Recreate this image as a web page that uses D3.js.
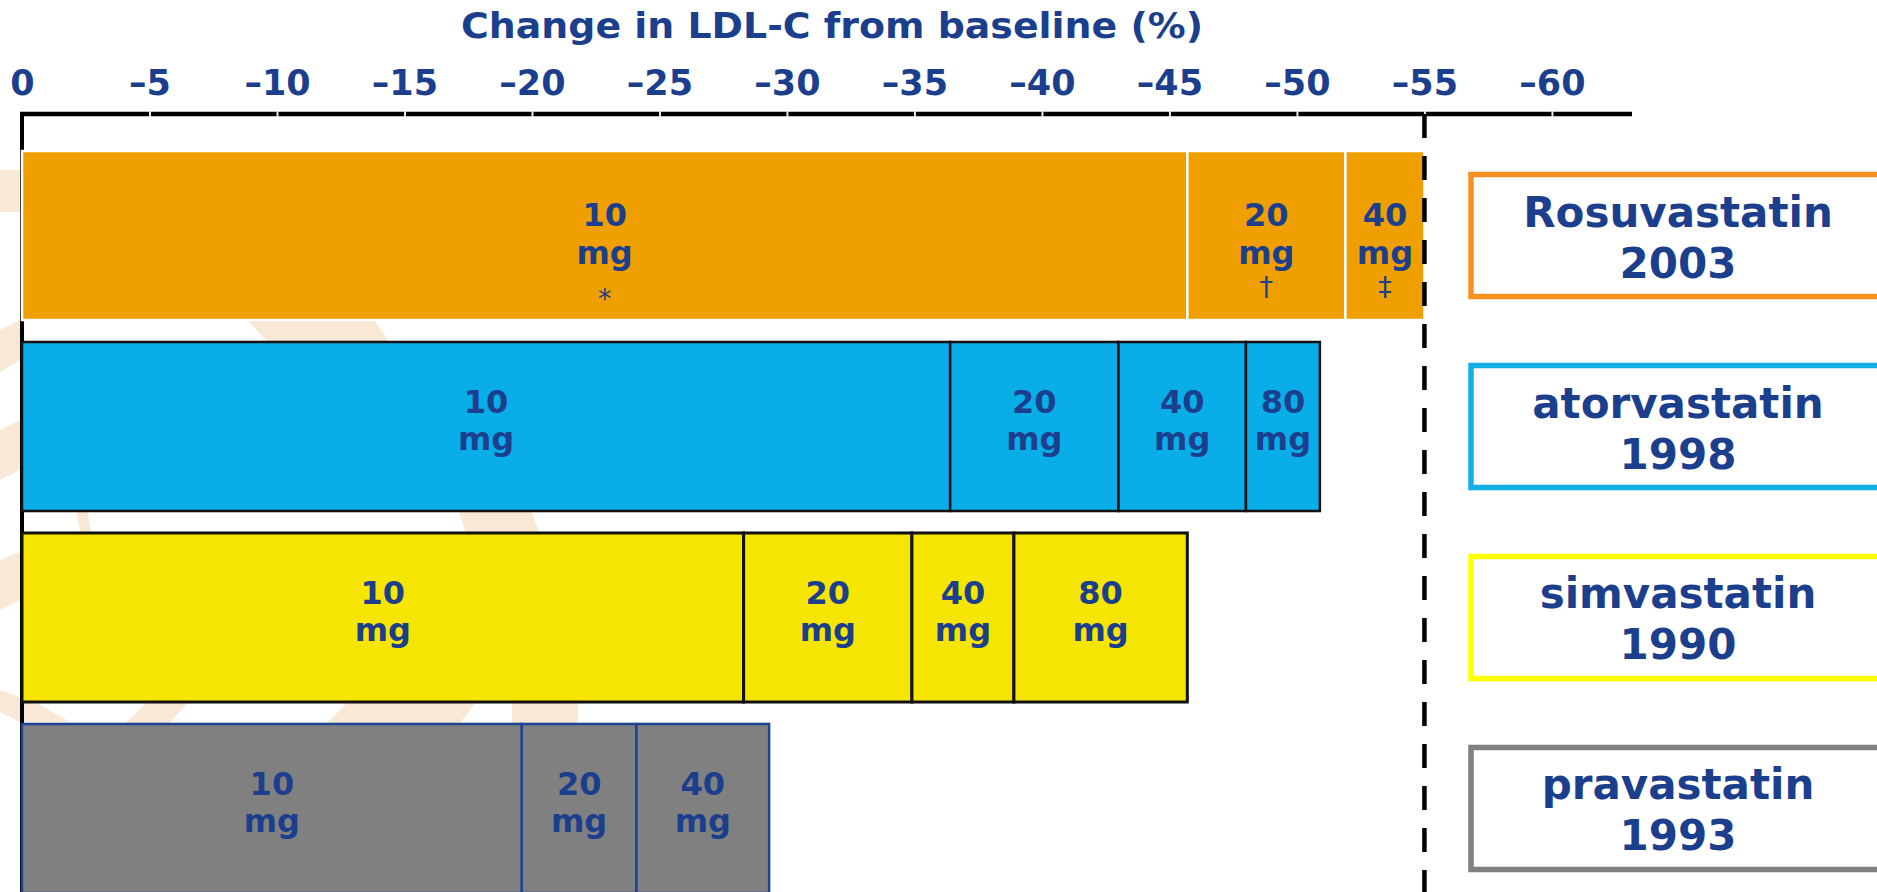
<!DOCTYPE html>
<html>
<head>
<meta charset="utf-8">
<script src="https://cdn.jsdelivr.net/npm/d3@7"></script>
<style>
  html, body { margin: 0; padding: 0; background: #fff; }
  svg { display: block; }
  text { font-family: "DejaVu Sans", Verdana, sans-serif; font-weight: bold; fill: #1b3f8c; }
</style>
</head>
<body>
<div id="chart"></div>
<script>
// statins, launch year and doses
const drugs = ["Rosuvastatin", "atorvastatin", "simvastatin", "pravastatin"];
const years = ["2003", "1998", "1990", "1993"];
const doses = [["10", "20", "40"], ["10", "20", "40", "80"], ["10", "20", "40", "80"], ["10", "20", "40"]];
// change in LDL-C from baseline (%) reached at each dose
const rosuvastatin = [-45.7, -51.9, -55];
const atorvastatin = [-36.4, -43, -48, -50.9];
const simvastatin = [-28.3, -34.9, -38.9, -45.7];
const pravastatin = [-19.6, -24.1, -29.3];
const footnotes = [["*", "\u2020", "\u2021"], [], [], []];
const xTicks = [0, -5, -10, -15, -20, -25, -30, -35, -40, -45, -50, -55, -60];
const targetLine = -55;

const values = [rosuvastatin, atorvastatin, simvastatin, pravastatin];
const fills = ["#efa000", "#09ade8", "#f6e500", "#808080"];
const edges = ["#ffffff", "#111111", "#111111", "#1f4493"];
const edgeW = [2.5, 2.5, 3, 2.5];
const boxColors = ["#f7901e", "#10b0e6", "#ffff00", "#808080"];

const width = 1877, height = 892;

const svg = d3.select("#chart").append("svg")
    .attr("width", width)
    .attr("height", height);

svg.append("rect").attr("width", width).attr("height", height).attr("fill", "#fff");

// faint logo watermark behind the bars
const watermark = [
  [[230, 300], [360, 300], [392, 345], [270, 345]],
  [[74, 500], [86, 500], [92, 540], [82, 540]],
  [[455, 500], [527, 500], [542, 540], [468, 540]],
  [[150, 700], [190, 700], [165, 728], [120, 728]],
  [[350, 700], [478, 700], [456, 728], [322, 728]],
  [[512, 700], [578, 700], [578, 728], [512, 728]],
  [[0, 690], [40, 705], [70, 722], [20, 722], [0, 712]],
  [[0, 170], [20, 170], [20, 212], [0, 212]],
  [[0, 330], [20, 320], [20, 360], [0, 372]],
  [[0, 430], [20, 420], [20, 470], [0, 480]],
  [[0, 560], [20, 552], [20, 600], [0, 610]]
];
svg.append("g")
  .selectAll("polygon")
  .data(watermark)
  .enter()
  .append("polygon")
    .attr("points", d => d.map(p => p.join(",")).join(" "))
    .attr("fill", "#f9e8d5");

const x = d3.scaleLinear()
    .domain([0, -63.14])
    .range([22, 1632]);

const y = d3.scaleBand()
    .domain(drugs)
    .range([151, 893])
    .paddingInner(0.115)
    .paddingOuter(0);

// title
svg.append("text")
    .attr("x", 832)
    .attr("y", 38)
    .attr("text-anchor", "middle")
    .attr("textLength", 742)
    .attr("lengthAdjust", "spacingAndGlyphs")
    .style("font-size", "35px")
    .text("Change in LDL-C from baseline (%)");

// top axis
const axis = d3.axisTop(x)
    .tickValues(xTicks)
    .tickSizeInner(0)
    .tickSizeOuter(0)
    .tickPadding(19)
    .tickFormat(d => d === 0 ? "0" : "\u2013" + Math.abs(d));

const gAxis = svg.append("g")
    .attr("transform", "translate(0,114)")
    .call(axis);
gAxis.select(".domain")
    .attr("d", "M" + (x(0) - 2) + ",0H" + x.range()[1])
    .attr("stroke", "#000")
    .attr("stroke-width", 4.5);
gAxis.selectAll(".tick text")
    .attr("fill", "#1b3f8c")
    .style("font-size", "35px")
    .style("font-family", "'DejaVu Sans', Verdana, sans-serif")
    .style("font-weight", "bold");
gAxis.selectAll(".tick")
    .filter(d => d !== 0)
    .append("line")
    .attr("y1", -3).attr("y2", 3)
    .attr("stroke", "#e8e8e8")
    .attr("stroke-width", 2);

// left vertical axis
svg.append("line")
    .attr("x1", x(0)).attr("x2", x(0))
    .attr("y1", 112).attr("y2", height)
    .attr("stroke", "#000")
    .attr("stroke-width", 4);

// bars: one group per statin, one rect per dose step
const rows = drugs.map((name, i) => ({
  name: name,
  i: i,
  segs: values[i].map((v, j) => ({
    from: j === 0 ? 0 : values[i][j - 1],
    to: v,
    dose: doses[i][j],
    note: footnotes[i][j]
  }))
}));

const gRow = svg.append("g")
  .selectAll("g")
  .data(rows)
  .enter()
  .append("g")
    .attr("transform", d => "translate(0," + y(d.name) + ")");

gRow.selectAll("rect")
  .data(d => d.segs.map(s => Object.assign({ i: d.i }, s)))
  .enter()
  .append("rect")
    .attr("x", d => x(d.from))
    .attr("width", d => x(d.to) - x(d.from))
    .attr("y", 0)
    .attr("height", y.bandwidth())
    .attr("fill", d => fills[d.i])
    .attr("stroke", d => edges[d.i])
    .attr("stroke-width", d => edgeW[d.i]);

// dose labels
const c = y.bandwidth() / 2;
const lbl = gRow.selectAll("g.lbl")
  .data(d => d.segs.map(s => Object.assign({ i: d.i }, s)))
  .enter()
  .append("g")
    .attr("class", "lbl")
    .attr("transform", d => "translate(" + (x(d.from) + x(d.to)) / 2 + ",0)");

lbl.append("text")
    .attr("text-anchor", "middle")
    .attr("y", d => d.note ? c - 10 : c - 13)
    .style("font-size", "32px")
    .text(d => d.dose);
lbl.append("text")
    .attr("text-anchor", "middle")
    .attr("y", d => d.note ? c + 28 : c + 24)
    .style("font-size", "32px")
    .text("mg");
lbl.filter(d => d.note)
  .append("text")
    .attr("text-anchor", "middle")
    .attr("y", d => d.note === "*" ? c + 72 : c + 60)
    .style("font-size", "27px")
    .style("font-weight", "normal")
    .text(d => d.note);

// -55% target line
svg.append("line")
    .attr("x1", x(targetLine)).attr("x2", x(targetLine))
    .attr("y1", 114).attr("y2", height)
    .attr("stroke", "#000")
    .attr("stroke-width", 4.5)
    .attr("stroke-dasharray", "24,18");

// name / year boxes on the right
const gBox = svg.append("g")
  .selectAll("g")
  .data(rows)
  .enter()
  .append("g")
    .attr("transform", d => "translate(0," + (y(d.name) + c) + ")");

gBox.append("rect")
    .attr("x", 1471)
    .attr("y", -61)
    .attr("width", 440)
    .attr("height", 122)
    .attr("fill", "#fff")
    .attr("stroke", d => boxColors[d.i])
    .attr("stroke-width", 5.5);
gBox.append("text")
    .attr("x", 1678)
    .attr("y", -9)
    .attr("text-anchor", "middle")
    .style("font-size", "42px")
    .text(d => d.name);
gBox.append("text")
    .attr("x", 1678)
    .attr("y", 42)
    .attr("text-anchor", "middle")
    .style("font-size", "42px")
    .text(d => years[d.i]);
</script>
</body>
</html>
